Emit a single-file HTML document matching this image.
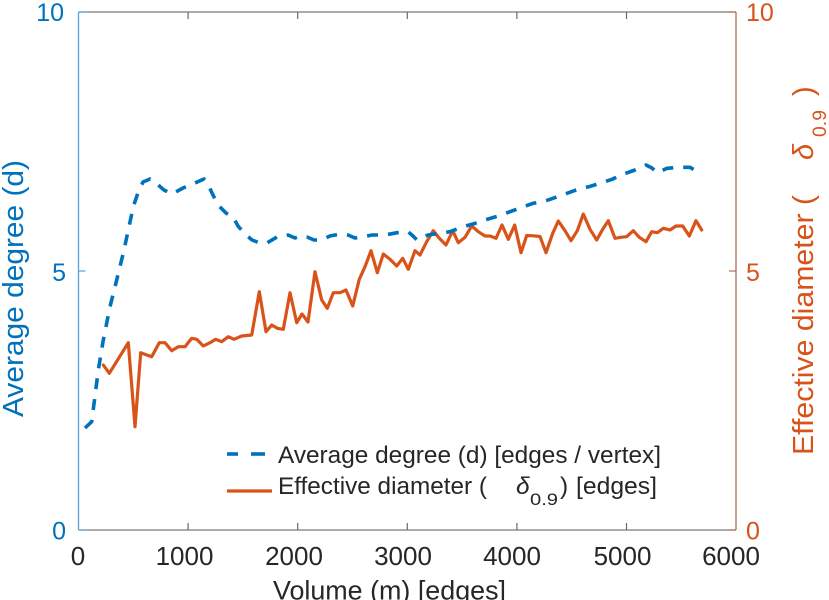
<!DOCTYPE html>
<html>
<head>
<meta charset="utf-8">
<style>
html,body{margin:0;padding:0;background:#fff;}
svg{display:block;}
text{font-family:"Liberation Sans",Arial,Helvetica,sans-serif;}
</style>
</head>
<body>
<svg width="829" height="600" viewBox="0 0 829 600" xmlns="http://www.w3.org/2000/svg">
  <rect x="0" y="0" width="829" height="600" fill="#ffffff"/>

  <!-- axes box -->
  <line x1="78.5" y1="12" x2="736" y2="12" stroke="#7a7a7a" stroke-width="1.3"/>
  <line x1="78.5" y1="530" x2="736" y2="530" stroke="#7a7a7a" stroke-width="1.3"/>
  <line x1="78.5" y1="12" x2="78.5" y2="530" stroke="#5c9fd3" stroke-width="1.3"/>
  <line x1="736" y1="12" x2="736" y2="530" stroke="#a8705c" stroke-width="1.3"/>

  <!-- x ticks (bottom & top) -->
  <g stroke="#6a6a6a" stroke-width="1.2">
    <line x1="188.1" y1="530" x2="188.1" y2="523"/>
    <line x1="297.7" y1="530" x2="297.7" y2="523"/>
    <line x1="407.3" y1="530" x2="407.3" y2="523"/>
    <line x1="516.9" y1="530" x2="516.9" y2="523"/>
    <line x1="626.5" y1="530" x2="626.5" y2="523"/>
    <line x1="188.1" y1="12" x2="188.1" y2="19"/>
    <line x1="297.7" y1="12" x2="297.7" y2="19"/>
    <line x1="407.3" y1="12" x2="407.3" y2="19"/>
    <line x1="516.9" y1="12" x2="516.9" y2="19"/>
    <line x1="626.5" y1="12" x2="626.5" y2="19"/>
  </g>
  <!-- y ticks left -->
  <g stroke="#5c9fd3" stroke-width="1.2">
    <line x1="78.5" y1="12" x2="85.5" y2="12"/>
    <line x1="78.5" y1="271" x2="85.5" y2="271"/>
    <line x1="78.5" y1="530" x2="85.5" y2="530"/>
  </g>
  <!-- y ticks right -->
  <g stroke="#a8705c" stroke-width="1.2">
    <line x1="736" y1="12" x2="729" y2="12"/>
    <line x1="736" y1="271" x2="729" y2="271"/>
    <line x1="736" y1="530" x2="729" y2="530"/>
  </g>

  <!-- left tick labels -->
  <g fill="#0072BD" font-size="25" text-anchor="end">
    <text x="64" y="21">10</text>
    <text x="66" y="281">5</text>
    <text x="66" y="539.5">0</text>
  </g>
  <!-- right tick labels -->
  <g fill="#D95319" font-size="25" text-anchor="start">
    <text x="746" y="21">10</text>
    <text x="746" y="281">5</text>
    <text x="746" y="539.5">0</text>
  </g>
  <!-- x tick labels -->
  <g fill="#262626" font-size="26" text-anchor="middle">
    <text x="78" y="565">0</text>
    <text x="184.5" y="565">1000</text>
    <text x="294" y="565">2000</text>
    <text x="403" y="565">3000</text>
    <text x="512" y="565">4000</text>
    <text x="622.5" y="565">5000</text>
    <text x="731" y="565">6000</text>
  </g>

  <!-- axis labels -->
  <text x="273" y="599.5" font-size="27" fill="#262626" textLength="233" lengthAdjust="spacingAndGlyphs">Volume (m) [edges]</text>
  <text transform="translate(23,288.5) rotate(-90)" x="0" y="0" text-anchor="middle" font-size="29" fill="#0072BD" textLength="257" lengthAdjust="spacingAndGlyphs">Average degree (d)</text>

  <g fill="#D95319">
    <text transform="translate(813,455) rotate(-90)" x="0" y="0" font-size="29" textLength="260" lengthAdjust="spacingAndGlyphs">Effective diameter (</text>
    <text transform="translate(813,160) rotate(-90)" x="0" y="0" font-size="29" font-style="italic" font-family="Liberation Serif, serif">δ</text>
    <text transform="translate(826,137) rotate(-90)" x="0" y="0" font-size="19" textLength="27" lengthAdjust="spacingAndGlyphs">0.9</text>
    <text transform="translate(813,96) rotate(-90)" x="0" y="0" font-size="29">)</text>
  </g>

  <!-- data: effective diameter (orange) -->
  <polyline fill="none" stroke="#D95319" stroke-width="3.2" stroke-linejoin="round" stroke-linecap="round"
    points="103.3,365 109.3,373.3 128.3,342.7 135,426.7 140.7,352.7 146.7,355 151.7,356.7 159.3,342.7 165,342.7 171.7,350.7 178.3,346.7 185,346.7 191.7,338.3 196.7,339.3 203.3,346 210,342.7 215.7,339.3 221.7,341.7 228.3,336.7 234,339.3 241.7,336 251.7,335 259.3,291.7 266,331.7 271.7,325 277.3,328.3 283.3,329.3 290,292.7 296.7,322.7 302,314 308,322 315,271.7 321.7,300 327.3,308.3 333.3,292.7 340,292.7 346,290 352.7,306 359.3,279.3 365,266.7 371,250.7 377.3,272.7 383.3,254 390,259.3 396.7,266 402.7,258.3 408.3,269.3 415,250.7 420,255 426.7,241.7 433.3,230.7 439.3,238.3 446,245 452.7,230.7 458.3,242.7 465,237.3 471.7,226 478.3,231.7 485,236 490,236 496,238.3 502,225 508.3,239.3 514.7,225 521,252.7 526.7,235.5 533.3,235.8 540,236.5 546,252.7 552.7,233.3 558.3,221 565,230.7 571,240.7 577.3,230.7 583.3,214 590,229.3 596.7,240 602.7,229.3 608.3,220.7 615,238.3 620.7,237.3 626.7,236.7 633.3,230.7 639.3,237.3 646,241.7 651.7,231.7 657.3,232.7 663.3,228.3 670,230 676,226 682.7,226 689.3,236 696,220.7 701.7,230"/>

  <!-- data: average degree (blue dashed) -->
  <polyline fill="none" stroke="#0072BD" stroke-width="3.6" stroke-dasharray="11 10" stroke-linejoin="round"
    points="85,428 91.7,421.7 95,396 98.3,370 103.3,340 110,306.7 116.7,280 123.3,253 128.3,230 133.3,206.7 138.3,191.7 143,182 150,179 157,184 164,190 172,194 183,188 195,183 204,179 208,184 212,193 218,205 226,213 233,217 238,226 245,234 252,240 260,243 267,243 277,237 288,235 295,238 300,236 307,237 314,240 321,240 330,236 340,234 348,235 355,238 362,237 372,235 385,235 397,232.7 408,231.7 413,236 417,240 423,237 428,235 440,233.3 450,231.7 463,226.7 473,224 485,220 498,216 510,211.7 522,207.3 533,203.3 543,201.7 553,198.3 567,193.3 578,189.3 589,186.7 600,183.3 612,179.3 623,174.3 635,170 646,165 652,168 657,172.7 667,168.3 679,167.3 690,167.3 700,173.3"/>

  <!-- legend -->
  <line x1="227" y1="454" x2="238" y2="454" stroke="#0072BD" stroke-width="3.6"/>
  <line x1="251" y1="454" x2="265" y2="454" stroke="#0072BD" stroke-width="3.6"/>
  <line x1="227" y1="491" x2="272" y2="491" stroke="#D95319" stroke-width="3.2"/>
  <g fill="#262626">
    <text x="278" y="463" font-size="24.5" textLength="383" lengthAdjust="spacingAndGlyphs">Average degree (d) [edges / vertex]</text>
    <text x="278" y="494" font-size="24.5" textLength="209" lengthAdjust="spacingAndGlyphs">Effective diameter (</text>
    <text x="516" y="494" font-size="24.5" font-style="italic" font-family="Liberation Serif, serif">δ</text>
    <text x="530" y="505" font-size="17" textLength="28" lengthAdjust="spacingAndGlyphs">0.9</text>
    <text x="560" y="494" font-size="24.5">)</text>
    <text x="576" y="494" font-size="24.5" textLength="81" lengthAdjust="spacingAndGlyphs">[edges]</text>
  </g>
</svg>
</body>
</html>
